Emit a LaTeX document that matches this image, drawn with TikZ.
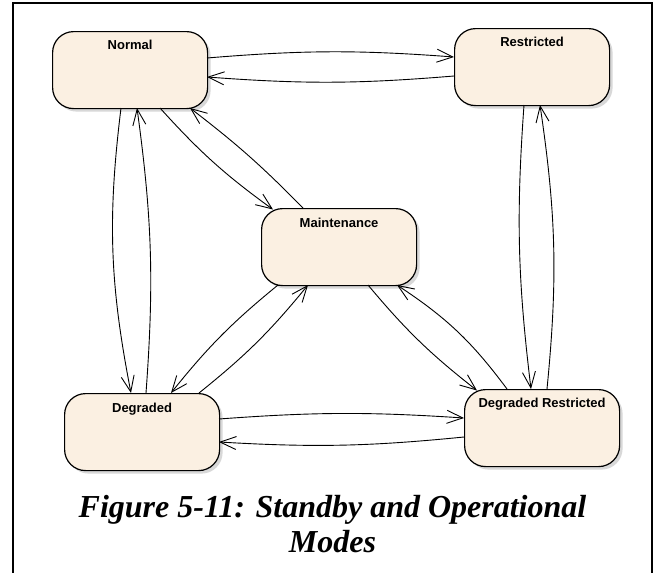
\documentclass[tikz,border=0pt]{standalone}
\usepackage{fontspec}
\setmainfont{Liberation Serif}
\setsansfont{Liberation Sans}
\usetikzlibrary{arrows.meta,calc,shadows}
\definecolor{statefill}{RGB}{251,240,226}
\begin{document}
\begin{tikzpicture}[x=1pt,y=-1pt,
  state/.style={draw=black, line width=1.2pt, fill=statefill, rounded corners=21pt,
    minimum width=155pt, minimum height=77pt, inner sep=0pt, anchor=north west,
    drop shadow={shadow xshift=3pt, shadow yshift=-3pt, fill=black!30}},
  statename/.style={font=\sffamily\bfseries\fontsize{13}{15}\selectfont,
    inner sep=0pt, anchor=north},
  caption/.style={font=\bfseries\itshape\fontsize{32}{36}\selectfont,
    inner sep=0pt, anchor=base},
  trans/.style={line width=0.9pt, -{Straight Barb[length=16pt,width=13pt]}},
]
\useasboundingbox (0,0) rectangle (654,573);
\fill[white] (0,0) rectangle (654,573);
% outer frame, open past the lower edge
\draw[line width=1.4pt] (13,3) rectangle (652,590);

% states
\node[state] (normal)      at (52,31)   {};
\node[state] (restricted)  at (454,28)  {};
\node[state] (maint)       at (261,208) {};
\node[state] (degraded)    at (64,393)  {};
\node[state] (degrestr)    at (464,389) {};

\node[statename] (normal-name)     at ($(normal.north)+(0,8.5)$)     {Normal};
\node[statename] (restricted-name) at ($(restricted.north)+(0,9)$)   {Restricted};
\node[statename] (maint-name)      at ($(maint.north)+(0,9.5)$)      {Maintenance};
\node[statename] (degraded-name)   at ($(degraded.north)+(0,9.5)$)   {Degraded};
\node[statename] (degrestr-name)   at ($(degrestr.north)+(0,9)$)     {Degraded Restricted};

% transitions
\draw[trans] ($(normal.north west)+(155,27)$) to[bend left=4.5] ($(restricted.north west)+(0,29)$);
\draw[trans] ($(restricted.north west)+(0,48)$) to[bend left=4.5] ($(normal.north west)+(155,46)$);

\draw[trans] ($(normal.north west)+(69,77)$) to[bend right=9] ($(degraded.north west)+(67,0)$);
\draw[trans] ($(degraded.north west)+(82,0)$) to[bend right=6] ($(normal.north west)+(85,77)$);

\draw[trans] ($(normal.north west)+(108,77)$) to[bend right=6] ($(maint.north west)+(12,1.5)$);
\draw[trans] ($(maint.north west)+(42,0)$) to[bend right=4] ($(normal.north west)+(138,77)$);

\draw[trans] ($(maint.north west)+(17,77)$) to[bend right=6] ($(degraded.north west)+(107,0)$);
\draw[trans] ($(degraded.north west)+(135,0)$) to[bend right=6] ($(maint.north west)+(47,77)$);

\draw[trans] ($(maint.north west)+(107,77)$) to[bend right=6] ($(degrestr.north west)+(13,1.5)$);
\draw[trans] ($(degrestr.north west)+(43,0)$) to[bend right=10] ($(maint.north west)+(136,77)$);

\draw[trans] ($(restricted.north west)+(70,77)$) to[bend right=5.5] ($(degrestr.north west)+(67,0)$);
\draw[trans] ($(degrestr.north west)+(83,0)$) to[bend right=7] ($(restricted.north west)+(86,77)$);

\draw[trans] ($(degraded.north west)+(155,26)$) to[bend left=4] ($(degrestr.north west)+(0,29)$);
\draw[trans] ($(degrestr.north west)+(0,48)$) to[bend left=4.5] ($(degraded.north west)+(155,49)$);

% caption
\node[caption] (cap1) at (332.5,517) {Figure 5-11: Standby and Operational};
\node[caption] (cap2) at (332.5,552) {Modes};
\end{tikzpicture}
\end{document}
